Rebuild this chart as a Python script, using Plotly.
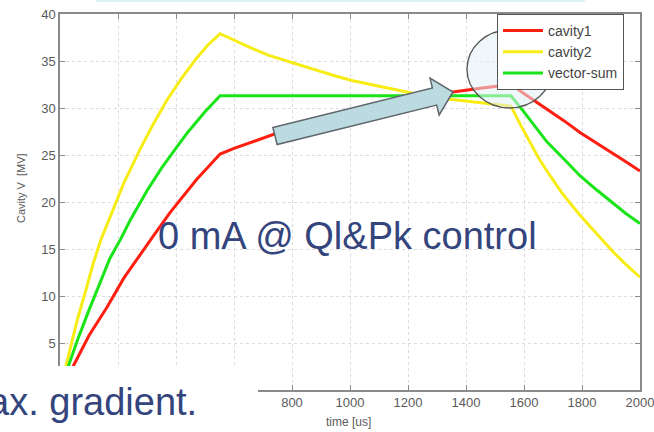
import math
import plotly.graph_objects as go

# ---------------- data ----------------
t_cavity1 = [0, 45, 100, 162, 220, 280, 322, 380, 430, 471, 510, 552,
             600, 690, 734, 800, 900, 1000, 1100, 1200, 1300, 1355, 1450, 1517, 1555,
             1597, 1640, 1679, 1740, 1793, 1850, 1907, 1950, 2000]
v_cavity1 = [0, 2.5, 5.8, 8.8, 11.9, 14.6, 16.4, 18.9, 20.8, 22.4, 23.7, 25.1,
             25.7, 26.7, 27.2, 27.9, 28.8, 29.6, 30.3, 30.9, 31.4, 31.7, 32.1, 32.4, 32.5,
             31.6, 30.7, 29.9, 28.6, 27.4, 26.3, 25.2, 24.3, 23.3]

t_cavity2 = [0, 15, 30, 60, 90, 114, 140, 172, 220, 276, 320, 368, 420, 471, 510, 552,
             600, 666, 720, 783, 840, 897, 950, 1010, 1070, 1128, 1180, 1241, 1320, 1414, 1528, 1555,
             1590, 1621, 1650, 1679, 1730, 1793, 1850, 1907, 1950, 2000]
v_cavity2 = [0, 1.9, 3.8, 7.5, 10.7, 13.4, 15.9, 18.3, 22.0, 25.6, 28.2, 30.8, 33.2, 35.3, 36.7, 37.9,
             37.2, 36.3, 35.6, 35.0, 34.4, 33.9, 33.4, 32.9, 32.5, 32.1, 31.8, 31.4, 31.0, 30.7, 30.3, 30.2,
             28.1, 26.3, 24.7, 23.3, 21.0, 18.6, 16.6, 14.7, 13.4, 12.0]

t_vsum = [0, 30, 60, 100, 140, 172, 210, 241, 300, 350, 390, 440, 500, 552,
          800, 1100, 1400, 1555,
          1597, 1640, 1679, 1740, 1793, 1850, 1907, 1950, 2000]
v_vsum = [0, 2.7, 5.3, 8.5, 11.5, 14.0, 16.1, 18.0, 21.2, 23.6, 25.3, 27.4, 29.6, 31.3,
          31.3, 31.3, 31.3, 31.3,
          29.7, 28.0, 26.4, 24.5, 22.8, 21.3, 19.9, 18.8, 17.7]

series_names = ["cavity1", "cavity2", "vector-sum"]
series_colors = ["#ff1e10", "#f7ec14", "#18e418"]

x_ticks = list(range(0, 2001, 200))
x_labels = ["", "", "", ""] + [str(v) for v in range(800, 2001, 200)]  # 0..600 hidden by overlay
y_ticks = list(range(0, 41, 5))
y_labels = [""] + [str(v) for v in range(5, 41, 5)]

# ---------------- layout geometry ----------------
W, H = 654, 432
L, R, T, B = 60, 640, 14, 390   # plot area in pixels


def px(x):
    return (x - L) / (R - L)


def py(y):
    return (B - y) / (B - T)


fig = go.Figure()
for tt, vv, name, col in zip([t_cavity1, t_cavity2, t_vsum],
                             [v_cavity1, v_cavity2, v_vsum],
                             series_names, series_colors):
    fig.add_trace(go.Scatter(x=tt, y=vv, mode="lines", name=name,
                             line=dict(color=col, width=3)))

axis_common = dict(showline=True, linecolor="#8a8a8a", linewidth=1.5,
                   mirror="ticks", ticks="inside", ticklen=5, tickcolor="#8a8a8a",
                   showgrid=True, gridcolor="#dcdcdc", griddash="dot", gridwidth=1,
                   zeroline=False, automargin=False,
                   tickfont=dict(family="Liberation Sans", size=13, color="#5a5a5a"))

fig.update_xaxes(range=[0, 2000], tickvals=x_ticks, ticktext=x_labels,
                 ticklabeloverflow="allow", **axis_common)
fig.update_yaxes(range=[0, 40], tickvals=y_ticks, ticktext=y_labels, **axis_common)

# ---------------- overlay shapes ----------------
shapes = []
# white box covering the lower-left corner
shapes.append(dict(type="rect", xref="paper", yref="paper", layer="above",
                   x0=px(-5), x1=px(258), y0=py(366), y1=py(440),
                   fillcolor="white", line=dict(width=0)))
# faint cyan band at the very top
shapes.append(dict(type="rect", xref="paper", yref="paper", layer="above",
                   x0=px(96), x1=px(585), y0=py(-1), y1=py(2),
                   fillcolor="#dcf1f1", line=dict(width=0)))

# block arrow
tail = (275, 136)
tip = (453, 92)
dx, dy = tip[0] - tail[0], tip[1] - tail[1]
ln = math.hypot(dx, dy)
ux, uy = dx / ln, dy / ln
nx, ny = -uy, ux
hw_shaft, hw_head, head_len = 8.8, 19, 19
sx, sy = tail[0] + ux * (ln - head_len), tail[1] + uy * (ln - head_len)
pts = [
    (tail[0] - nx * hw_shaft, tail[1] - ny * hw_shaft),
    (sx - nx * hw_shaft, sy - ny * hw_shaft),
    (sx - nx * hw_head, sy - ny * hw_head),
    tip,
    (sx + nx * hw_head, sy + ny * hw_head),
    (sx + nx * hw_shaft, sy + ny * hw_shaft),
    (tail[0] + nx * hw_shaft, tail[1] + ny * hw_shaft),
]
path = "M " + " L ".join(f"{px(a):.5f},{py(b):.5f}" for a, b in pts) + " Z"
shapes.append(dict(type="path", xref="paper", yref="paper", layer="above", path=path,
                   fillcolor="#bcdbe1", line=dict(color="#5f676c", width=1.5)))

# highlight circle
shapes.append(dict(type="circle", xref="paper", yref="paper", layer="above",
                   x0=px(467), x1=px(552), y0=py(108), y1=py(30),
                   fillcolor="rgba(226,240,246,0.55)", line=dict(color="#555555", width=1.3)))

annotations = [
    dict(text="0 mA @ Ql&amp;Pk control", xref="paper", yref="paper",
         x=px(347), y=py(236), xanchor="center", yanchor="middle", showarrow=False,
         font=dict(family="Liberation Sans", size=38, color="#34457d")),
    dict(text="ax. gradient.", xref="paper", yref="paper",
         x=px(-14), y=py(402), xanchor="left", yanchor="middle", showarrow=False,
         font=dict(family="Liberation Sans", size=38, color="#34457d")),
    dict(text="time [us]", xref="paper", yref="paper",
         x=px(348), y=py(422), xanchor="center", yanchor="middle", showarrow=False,
         font=dict(family="Liberation Sans", size=12, color="#5a5a5a")),
    dict(text="Cavity V\u00a0 [MV]", xref="paper", yref="paper", textangle=-90,
         x=px(21), y=py(188), xanchor="center", yanchor="middle", showarrow=False,
         font=dict(family="Liberation Sans", size=11, color="#5a5a5a")),
]

fig.update_layout(
    width=W, height=H,
    margin=dict(l=L, r=W - R, t=T, b=H - B, autoexpand=False),
    paper_bgcolor="white", plot_bgcolor="white",
    showlegend=True,
    legend=dict(x=px(497), y=py(14), xanchor="left", yanchor="top",
                bgcolor="white", bordercolor="#555555", borderwidth=1,
                font=dict(family="Liberation Sans", size=14, color="#444444"),
                itemwidth=40, tracegroupgap=0),
    shapes=shapes, annotations=annotations,
)

fig.write_html("out.html")
